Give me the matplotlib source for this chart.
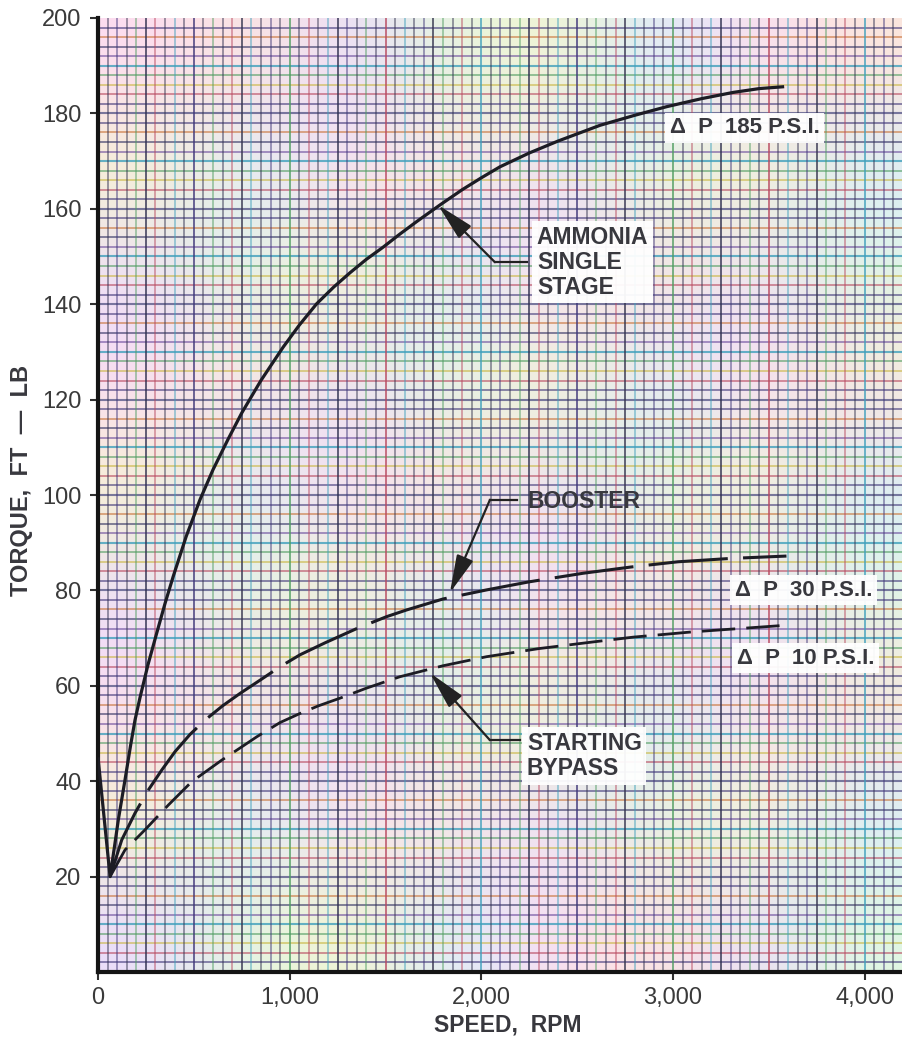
import numpy as np
import matplotlib
matplotlib.use("Agg")
import matplotlib.pyplot as plt
from matplotlib.ticker import FuncFormatter

plt.rcParams['font.family'] = ['Liberation Sans', 'DejaVu Sans']

# ---- data ----
ammonia_x = [0, 63, 85, 106, 141, 170, 193, 219, 260, 306, 350, 393, 460, 532,
             600, 680, 750, 850, 966, 1050, 1141, 1230, 1315, 1400, 1489, 1575,
             1662, 1784, 1900, 2000, 2097, 2250, 2400, 2619, 2800, 2966, 3150,
             3314, 3450, 3580]
ammonia_y = [45, 20, 26, 31.9, 40.3, 47.5, 52.8, 57.5, 64.3, 71, 77.3, 83, 91.3,
             99, 105.3, 111.8, 117.2, 124, 131, 135.6, 140.1, 143.6, 146.6,
             149.4, 152, 154.7, 157.3, 160.8, 164, 166.5, 168.8, 171.7, 174.2,
             177.5, 179.6, 181.4, 183.1, 184.4, 185.2, 185.6]

booster_x = [63, 124, 193, 260, 332, 402, 480, 558, 650, 741, 850, 950, 1054,
             1184, 1350, 1506, 1610, 1800, 2027, 2250, 2532, 2780, 3026, 3300,
             3592]
booster_y = [20, 27.7, 33.3, 38, 42.3, 46.2, 49.8, 52.8, 55.8, 58.4, 61.3, 64,
             66.5, 69, 72, 74.5, 75.9, 78.2, 80.1, 81.8, 83.6, 84.9, 86.0, 86.7,
             87.2]

bypass_x = [63, 141, 245, 367, 489, 645, 750, 828, 950, 1054, 1150, 1262, 1400,
            1575, 1800, 2027, 2300, 2584, 2792, 3100, 3592]
bypass_y = [20, 25.6, 29.8, 35, 39.9, 44.4, 47.2, 49.3, 52.3, 54.2, 55.8, 57.4,
            59.5, 61.9, 64.2, 66.1, 67.8, 69.2, 70.2, 71.3, 72.7]

x_ticks = [0, 1000, 2000, 3000, 4000]
y_ticks = [20, 40, 60, 80, 100, 120, 140, 160, 180, 200]

label_185 = "Δ  P  185 P.S.I."
label_30 = "Δ  P  30 P.S.I."
label_10 = "Δ  P  10 P.S.I."

# ---- figure ----
fig = plt.figure(figsize=(9.03, 10.39), dpi=100)
fig.patch.set_facecolor('white')
ax = fig.add_axes([98 / 903, 67 / 1039, 1 - 98 / 903, (972 - 18) / 1039])
ax.set_xlim(0, 4200)
ax.set_ylim(0, 200)
ax.set_facecolor('#f6f2f7')

# soft pastel background patches (scanned graph paper look)
pastel = np.array([[0.99, 0.86, 0.95], [0.84, 0.93, 0.99], [0.97, 0.96, 0.80],
                   [0.88, 0.97, 0.88], [0.92, 0.86, 0.99], [0.99, 0.90, 0.86]])
ny_c, nx_c = 9, 8
idx = (np.arange(ny_c)[:, None] * 2 + np.arange(nx_c)[None, :] * 5) % len(pastel)
img = pastel[idx]
ax.imshow(img, extent=[0, 4200, 0, 200], aspect='auto', interpolation='bicubic',
          zorder=0)

# graph paper grid
hcols = ['#3e3578', '#b8485f', '#c9b640', '#4f9c60', '#40a0bc', '#6a4a9c',
         '#2e2e60', '#c87238', '#3e3578', '#5a5a8a']
vcols = ['#2e2e4e', '#3e3578', '#34344e', '#4f9c60', '#2e2e4e', '#b8485f',
         '#34344e', '#40a0bc']
for i, yv in enumerate(np.arange(2, 200, 2)):
    major = (i + 1) % 5 == 0
    ax.axhline(yv, color=hcols[i % len(hcols)], lw=1.5 if major else 1.2,
               alpha=0.8 if major else 0.68, zorder=1)
for i, xv in enumerate(np.arange(50, 4200, 50)):
    major = (i + 1) % 5 == 0
    ax.axvline(xv, color=vcols[i % len(vcols)], lw=1.4 if major else 1.1,
               alpha=0.75 if major else 0.6, zorder=1)

# curves
ax.plot(ammonia_x, ammonia_y, color='#1c1c24', lw=2.3, zorder=5,
        solid_capstyle='butt', solid_joinstyle='round')
l1, = ax.plot(booster_x, booster_y, color='#1c1c24', lw=2.2, zorder=5)
l1.set_dashes((26, 5))
l2, = ax.plot(bypass_x, bypass_y, color='#1c1c24', lw=2.0, zorder=5)
l2.set_dashes((12, 4))

# spines / ticks
for s in ['top', 'right']:
    ax.spines[s].set_visible(False)
ax.spines['left'].set_linewidth(3)
ax.spines['bottom'].set_linewidth(3)
ax.spines['left'].set_color('#151515')
ax.spines['bottom'].set_color('#151515')
ax.set_xticks(x_ticks)
ax.set_yticks(y_ticks)
ax.xaxis.set_major_formatter(FuncFormatter(lambda v, p: f"{int(v):,}"))
ax.tick_params(axis='both', direction='out', length=6, width=1.5,
               labelsize=17, labelcolor='#3a3a3a', color='#303030', pad=5)
ax.tick_params(axis='y', pad=6)

txt_kw = dict(fontsize=16.5, fontweight='bold', color='#38383e', zorder=7)
dp_kw = dict(fontsize=16, fontweight='bold', color='#38383e', zorder=7)
box = dict(boxstyle='square,pad=0.2', fc='white', ec='none', alpha=0.95)

# delta P labels
ax.text(2984, 177, label_185, ha='left', va='center', bbox=box, **dp_kw)
ax.text(3323, 80, label_30, ha='left', va='center', bbox=box, **dp_kw)
ax.text(3333, 65.8, label_10, ha='left', va='center', bbox=box, **dp_kw)

# leaders with arrows
def leader(tip, elbow, end):
    ax.plot([elbow[0], end[0]], [elbow[1], end[1]], color='#222222', lw=1.6,
            zorder=6)
    ax.annotate('', xy=tip, xytext=elbow,
                arrowprops=dict(arrowstyle='-|>,head_length=1.3,head_width=0.3',
                                color='#222222', lw=1.6, mutation_scale=18,
                                shrinkA=0, shrinkB=0), zorder=6)

leader((1774, 160.8), (2071, 148.8), (2238, 148.8))
ax.text(2290, 148.8, "AMMONIA\nSINGLE\nSTAGE", ha='left', va='center',
        linespacing=1.12, bbox=box, **txt_kw)

leader((1836, 79.5), (2045, 99), (2186, 99))
ax.text(2243, 98.6, "BOOSTER", ha='left', va='center', **txt_kw)

leader((1732, 62.7), (2045, 48.6), (2201, 48.6))
ax.text(2238, 45.3, "STARTING\nBYPASS", ha='left', va='center',
        linespacing=1.12, bbox=box, **txt_kw)

# axis labels
fig.text(508 / 903, 1 - 1025 / 1039, "SPEED,  RPM", ha='center', va='center',
         fontsize=16.5, fontweight='bold', color='#38383e')
fig.text(22 / 903, 1 - 480 / 1039, "TORQUE,  FT  —  LB", ha='center',
         va='center', rotation=90, fontsize=17, fontweight='bold',
         color='#38383e')

fig.savefig('out.png', dpi=100, facecolor='white')
